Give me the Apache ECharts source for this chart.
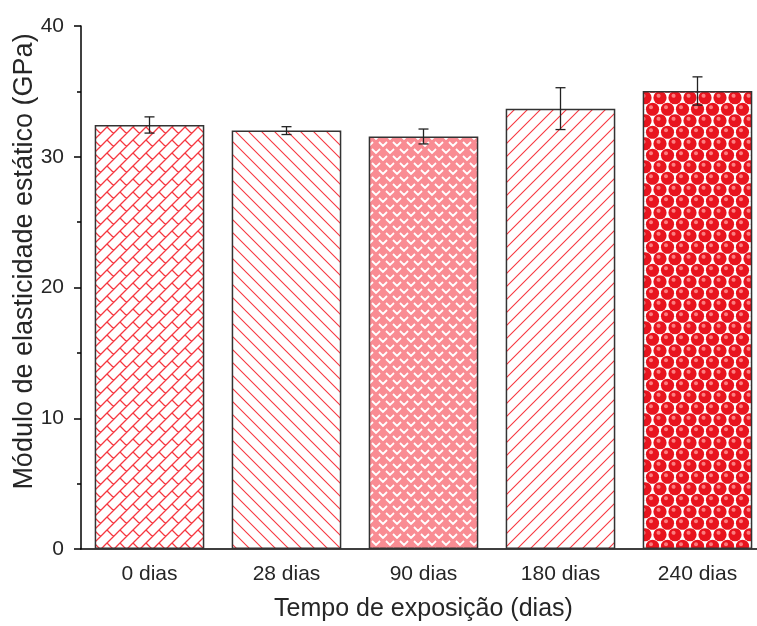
<!DOCTYPE html>
<html>
<head>
<meta charset="utf-8">
<script src="https://cdn.jsdelivr.net/npm/echarts@6/dist/echarts.min.js"></script>
<style>html,body{margin:0;padding:0;background:#fff}#c{width:757px;height:626px}</style>
</head>
<body>
<div id="c"></div>
<script>
const categories = ['0 dias', '28 dias', '90 dias', '180 dias', '240 dias'];
const modulus = [32.43, 32.0, 31.55, 33.68, 35.03];
const errors = [0.62, 0.3, 0.57, 1.6, 1.08];
const yTicks = [0, 10, 20, 30, 40];

function tile(w, h, draw) {
  const c = document.createElement('canvas');
  c.width = w; c.height = h;
  const g = c.getContext('2d');
  g.fillStyle = '#fff'; g.fillRect(0, 0, w, h);
  draw(g, w, h);
  return {image: c, repeat: 'repeat'};
}
const RED = 'rgba(245,20,30,0.85)';
const shifts = (T) => { const s = []; for (let i = -1; i <= 1; i++) for (let j = -1; j <= 1; j++) s.push([i * T, j * T]); return s; };
// brick diagonal
const pBrick = tile(13, 13, (g, T) => {
  g.strokeStyle = RED; g.lineWidth = 1.3;
  g.beginPath();
  for (let k = -1; k <= 2; k++) { g.moveTo(k * T - 1 - T, T + 1); g.lineTo(k * T + 1, -1); }
  const a = 3;
  for (const [dx, dy] of shifts(T)) {
    g.moveTo(a + dx, T - a + dy); g.lineTo(a + T / 2 + dx, T - a + T / 2 + dy);
  }
  g.stroke();
});
const pBack = tile(13, 13, (g, T) => {
  g.strokeStyle = RED; g.lineWidth = 1.1;
  g.beginPath();
  for (let k = -1; k <= 1; k++) { g.moveTo(k * T - 1, -1); g.lineTo(k * T + T + 1, T + 1); }
  g.stroke();
});
const pFwd = tile(13, 13, (g, T) => {
  g.strokeStyle = RED; g.lineWidth = 1.1;
  g.beginPath();
  for (let k = -1; k <= 1; k++) { g.moveTo(k * T - 1, T + 1); g.lineTo(k * T + T + 1, -1); }
  g.stroke();
});
const pWeave = tile(14, 14, (g, T) => {
  g.fillStyle = 'rgba(245,70,80,0.62)'; g.fillRect(0, 0, T, T);
  g.strokeStyle = '#fff'; g.lineWidth = 1.8;
  g.beginPath();
  for (const [dx, dy] of shifts(T)) {
    g.moveTo(1 + dx, 2 + dy); g.lineTo(5 + dx, 6 + dy); g.lineTo(9 + dx, 2 + dy);
    g.moveTo(8 + dx, 9 + dy); g.lineTo(12 + dx, 13 + dy); g.lineTo(16 + dx, 9 + dy);
  }
  g.stroke();
});
const pBalls = tile(15, 23, (g, W, H) => {
  const pts = [[0,5.75],[15,5.75],[7.5,17.25],[0,28.75],[15,28.75],[7.5,-5.75]];
  for (const [x, y] of pts) {
    g.fillStyle = '#e8141e';
    g.beginPath(); g.arc(x, y, 6.6, 0, Math.PI * 2); g.fill();
    g.fillStyle = 'rgba(255,150,150,0.8)';
    g.beginPath(); g.arc(x - 1.5, y - 2, 2, 0, Math.PI * 2); g.fill();
  }
});
const patterns = [pBrick, pBack, pWeave, pFwd, pBalls];

const chart = echarts.init(document.getElementById('c'), null, {renderer: 'canvas'});
const txt = '#262626';
chart.setOption({
  animation: false,
  grid: {left: 81, top: 26, width: 685, height: 523, containLabel: false, outerBoundsMode: 'none'},
  xAxis: [{
    type: 'category', data: categories, position: 'bottom',
    name: 'Tempo de exposição (dias)', nameLocation: 'middle', nameGap: 48,
    nameTextStyle: {fontSize: 25, color: txt, fontFamily: 'Liberation Sans'},
    axisLine: {lineStyle: {color: '#000', width: 1.5}},
    axisTick: {alignWithLabel: true, length: 9, lineStyle: {color: '#000', width: 1.5}},
    axisLabel: {fontSize: 21, color: txt, margin: 15, fontFamily: 'Liberation Sans'}
  }, {
    type: 'category', data: categories, position: 'bottom', offset: 0,
    axisLine: {show: false}, axisLabel: {show: false},
    axisTick: {length: 5, lineStyle: {color: '#000', width: 1.5}}
  }],
  yAxis: {
    type: 'value', min: yTicks[0], max: yTicks[yTicks.length - 1], interval: 10,
    name: 'Módulo de elasticidade estático (GPa)', nameLocation: 'middle', nameGap: 43,
    nameMoveOverlap: false,
    nameTextStyle: {fontSize: 27, color: txt, fontFamily: 'Liberation Sans', padding: [0, 0, 0, 52]},
    axisLine: {show: true, lineStyle: {color: '#000', width: 1.5}},
    axisTick: {show: true, length: 7, lineStyle: {color: '#000', width: 1.5}},
    minorTick: {show: true, splitNumber: 2, length: 4, lineStyle: {color: '#000', width: 1.5}},
    splitLine: {show: false},
    axisLabel: {fontSize: 21, color: txt, margin: 17, fontFamily: 'Liberation Sans'}
  },
  series: [{
    type: 'bar', barCategoryGap: '20%',
    data: modulus.map((v, i) => ({value: v, itemStyle: {color: patterns[i]}})),
    itemStyle: {borderColor: '#333', borderWidth: 1.5}
  }, {
    type: 'custom',
    data: modulus.map((v, i) => [i, v, errors[i]]),
    z: 10,
    renderItem: (params, api) => {
      const x = api.value(0), m = api.value(1), e = api.value(2);
      const top = api.coord([x, m + e]), bot = api.coord([x, m - e]);
      const cw = 5;
      const st = {stroke: '#222', lineWidth: 1.3};
      return {type: 'group', children: [
        {type: 'line', shape: {x1: top[0], y1: top[1], x2: bot[0], y2: bot[1]}, style: st},
        {type: 'line', shape: {x1: top[0] - cw, y1: top[1], x2: top[0] + cw, y2: top[1]}, style: st},
        {type: 'line', shape: {x1: bot[0] - cw, y1: bot[1], x2: bot[0] + cw, y2: bot[1]}, style: st}
      ]};
    }
  }]
});
</script>
</body>
</html>
